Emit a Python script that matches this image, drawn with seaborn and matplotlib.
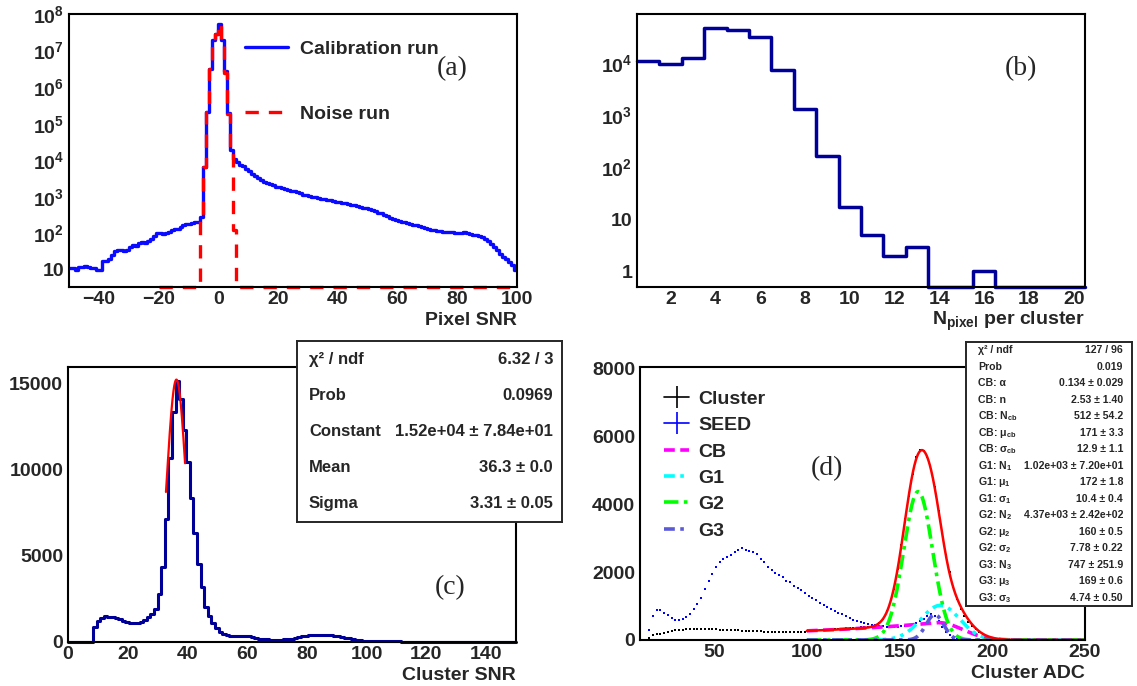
import numpy as np
import pandas as pd
import seaborn as sns
import matplotlib
matplotlib.use("Agg")
import matplotlib.pyplot as plt
from matplotlib.ticker import MultipleLocator, LogLocator, FuncFormatter, NullFormatter
from matplotlib.lines import Line2D

# ---- (a) pixel SNR, 1-unit bins ----
calib_start = -50
calib_counts = [
    11, 11, 10, 12, 12, 13, 12, 11, 11, 10,
    10, 17, 18, 20, 26, 33, 35, 34, 32, 36,
    42, 48, 45, 55, 58, 56, 62, 72, 85, 100,
    100, 98, 105, 112, 120, 128, 135, 150, 165, 175,
    185, 190, 200, 210, 280, 6600, 2.1e5, 3.2e6, 1.9e7, 2.8e7,
    5.3e7, 2.0e7, 2.8e6, 2.0e5, 1.9e4, 1.05e4, 9.0e3, 7.6e3, 6.8e3, 5.8e3,
    5.0e3, 4.2e3, 3.6e3, 3.2e3, 2.9e3, 2.6e3, 2.4e3, 2.2e3, 2.05e3, 1.9e3,
    1.8e3, 1.7e3, 1.6e3, 1.55e3, 1.45e3, 1.4e3, 1.35e3, 1.25e3, 1.15e3, 1.1e3,
    1.05e3, 1.0e3, 960, 920, 890, 860, 830, 800, 770, 740,
    720, 690, 660, 640, 610, 580, 560, 520, 500, 500,
    470, 430, 400, 370, 350, 320, 290, 270, 250, 230,
    220, 210, 200, 190, 180, 170, 165, 160, 150, 140,
    130, 125, 120, 118, 115, 112, 110, 108, 106, 104,
    102, 100, 110, 100, 95, 90, 92, 85, 78, 70,
    60, 50, 43, 35, 28, 22, 20, 16, 14, 10,
]
noise_start = -20
noise_counts = ([0] * 14
                + [250, 6600, 2.1e5, 3.2e6, 1.9e7, 2.8e7, 5.3e7, 2.0e7, 2.5e6, 1.8e5, 1.9e4, 120]
                + [0] * 94)

# ---- (b) pixels per cluster ----
npix_counts = [11000, 10000, 13000, 49000, 45000, 33000, 7400, 1360, 167, 17.5,
               5, 2, 3, 0, 0, 1, 0, 0, 0, 0]

# ---- (c) cluster SNR, 1.2 wide bins from 0 to 150 ----
csnr_width = 1.2
csnr_counts = [
    0, 0, 0, 0, 0, 0, 0,
    850, 1200, 1400, 1480, 1460, 1430, 1380, 1310, 1230, 1160,
    1110, 1090, 1110, 1160, 1250, 1450, 1650, 1930, 2800, 4350,
    7150, 10640, 13350, 15100, 14050, 12280, 10440, 8320, 6320, 4500,
    3190, 2030, 1500, 1100, 800, 600, 470, 400, 370, 350,
    350, 360, 350, 320, 280, 240, 200, 170, 150, 140,
    135, 135, 140, 150, 170, 200, 240, 280, 320, 350,
    380, 390, 400, 400, 400, 390, 380, 350, 320, 290,
    250, 210, 170, 130, 100, 80, 70, 60, 55, 50,
    45, 40, 38, 35, 32, 30, 28, 25, 23, 22,
    20, 19, 18, 17, 16, 15, 14, 13, 12, 12,
    11, 10, 10, 9, 9, 8, 8, 7, 7, 6,
    6, 6, 5, 5, 5, 4, 4, 4,
]
gaus_pars = [1.52e4, 36.3, 3.31]
gaus_range = [32.8, 39.2]
c_stat_names = ["χ² / ndf", "Prob", "Constant", "Mean", "Sigma"]
c_stat_values = ["6.32 / 3", "0.0969", "1.52e+04 ± 7.84e+01", "36.3 ± 0.0", "3.31 ± 0.05"]

# ---- (d) cluster / seed ADC, 2 wide bins from 10 to 250 ----
adc_start, adc_width = 10, 2
cluster_counts = [
    0, 0, 60, 150, 170, 180, 220, 240, 270, 290,
    300, 300, 310, 310, 320, 330, 330, 330, 320, 320,
    310, 300, 300, 290, 290, 280, 280, 270, 270, 270,
    260, 260, 260, 250, 250, 250, 240, 240, 240, 240,
    240, 240, 240, 240, 250, 270, 280, 290, 290, 300,
    300, 310, 320, 320, 330, 340, 340, 350, 360, 370,
    380, 390, 410, 440, 500, 620, 850, 1100, 1500, 2100,
    2800, 3550, 4250, 4900, 5400, 5600, 5580, 5380, 5000, 4500,
    3800, 3150, 2500, 2000, 1550, 1200, 900, 700, 540, 420,
    330, 250, 180, 130, 90, 60, 40, 25, 15, 8,
    0, 0, 0, 0, 0, 0, 0, 0, 0, 0,
    0, 0, 0, 0, 0, 0, 0, 0, 0, 0,
]
seed_counts = [
    0, 0, 300, 700, 880, 870, 800, 730, 650, 600,
    590, 610, 680, 760, 900, 1050, 1250, 1500, 1750, 1950,
    2150, 2300, 2400, 2450, 2500, 2580, 2650, 2700, 2650, 2620,
    2600, 2520, 2400, 2300, 2150, 2050, 1980, 1900, 1850, 1750,
    1700, 1600, 1520, 1460, 1380, 1300, 1230, 1170, 1100, 1040,
    960, 900, 850, 800, 760, 700, 640, 600, 560, 520,
    490, 470, 450, 430, 420, 400, 390, 380, 380, 380,
    400, 420, 450, 480, 510, 550, 610, 700, 780, 720,
    560, 380, 250, 140, 60, 20, 0, 0, 0, 0,
    0, 0, 0, 0, 0, 0, 0, 0, 0, 0,
    0, 0, 0, 0, 0, 0, 0, 0, 0, 0,
    0, 0, 0, 0, 0, 0, 0, 0, 0, 0,
]
cb_pars = [0.134, 2.53, 512, 171, 12.9]   # alpha, n, N, mu, sigma
g1_pars = [1020, 172, 10.4]
g2_pars = [4370, 160, 7.78]
g3_pars = [747, 169, 4.74]
fit_range = [100, 250]
d_stat_names = ["χ² / ndf", "Prob", "CB: α", "CB: n",
                r"CB: N$_{\mathbf{cb}}$", r"CB: μ$_{\mathbf{cb}}$", r"CB: σ$_{\mathbf{cb}}$",
                r"G1: N$_{\mathbf{1}}$", r"G1: μ$_{\mathbf{1}}$", r"G1: σ$_{\mathbf{1}}$",
                r"G2: N$_{\mathbf{2}}$", r"G2: μ$_{\mathbf{2}}$", r"G2: σ$_{\mathbf{2}}$",
                r"G3: N$_{\mathbf{3}}$", r"G3: μ$_{\mathbf{3}}$", r"G3: σ$_{\mathbf{3}}$"]
d_stat_values = ["127 / 96", "0.019", "0.134 ± 0.029", "2.53 ± 1.40", "512 ± 54.2",
                 "171 ± 3.3", "12.9 ± 1.1", "1.02e+03 ± 7.20e+01", "172 ± 1.8",
                 "10.4 ± 0.4", "4.37e+03 ± 2.42e+02", "160 ± 0.5", "7.78 ± 0.22",
                 "747 ± 251.9", "169 ± 0.6", "4.74 ± 0.50"]

sns.set_style("white")
plt.rcParams['font.family'] = ['Liberation Sans', 'DejaVu Sans']
plt.rcParams['font.weight'] = 'bold'
plt.rcParams['axes.labelweight'] = 'bold'
plt.rcParams['mathtext.fontset'] = 'custom'
plt.rcParams['mathtext.rm'] = 'Liberation Sans'
plt.rcParams['mathtext.bf'] = 'Liberation Sans:bold'
plt.rcParams['mathtext.it'] = 'Liberation Sans:italic'

W, H = 1137, 686
fig = plt.figure(figsize=(W / 100, H / 100), dpi=100)


def px_axes(x0, y0, x1, y1):
    return fig.add_axes([x0 / W, 1 - y1 / H, (x1 - x0) / W, (y1 - y0) / H])


def root_style(ax):
    for s in ax.spines.values():
        s.set_linewidth(1.5)
        s.set_color("black")
    ax.tick_params(which="both", direction="in", top=False, right=False,
                   labelsize=14, width=1.0, color="black")
    ax.tick_params(axis="x", which="major", length=8, pad=3)
    ax.tick_params(axis="x", which="minor", length=4)
    ax.tick_params(axis="y", which="major", length=13, pad=3.5)
    ax.tick_params(axis="y", which="minor", length=7)
    ax.set_ylabel("")


def log_label(v, pos):
    e = int(round(np.log10(v)))
    if e == 0:
        return "1"
    if e == 1:
        return "10"
    return r"$\mathbf{10^{%d}}$" % e


def log_axis(ax):
    ax.set_yscale("log")
    ax.yaxis.set_major_locator(LogLocator(base=10, numticks=20))
    ax.yaxis.set_minor_locator(LogLocator(base=10, subs=np.arange(2, 10), numticks=100))
    ax.yaxis.set_major_formatter(FuncFormatter(log_label))
    ax.yaxis.set_minor_formatter(NullFormatter())


def step_frame(edges, counts):
    counts = np.asarray(counts, dtype=float)
    return pd.DataFrame({"edge": edges, "count": np.append(counts, counts[-1])})


def stats_box(x0, y0, x1, y1, names, values, size):
    bx = px_axes(x0, y0, x1, y1)
    bx.set_xticks([])
    bx.set_yticks([])
    bx.set_facecolor("white")
    for s in bx.spines.values():
        s.set_linewidth(1.4)
    n = len(names)
    lpad = 12 / (x1 - x0)
    rpad = 1 - 9 / (x1 - x0)
    for i, (nm, val) in enumerate(zip(names, values)):
        yy = 1 - (i + 0.5) / n
        bx.text(lpad, yy, nm, ha="left", va="center", fontsize=size, transform=bx.transAxes)
        bx.text(rpad, yy, val, ha="right", va="center", fontsize=size, transform=bx.transAxes)


def tag(ax, x, y, s):
    ax.text(x, y, s, transform=ax.transAxes, ha="center", va="center",
            fontsize=20, fontweight="normal", family=["Liberation Serif", "DejaVu Serif"])


# ---------------- (a) ----------------
ax_a = px_axes(69, 14, 517, 287)
a_ylim = (3.4, 1e8)
a_edges = np.arange(calib_start, calib_start + len(calib_counts) + 1)
n_edges = np.arange(noise_start, noise_start + len(noise_counts) + 1)
sns.lineplot(data=step_frame(a_edges, np.clip(calib_counts, a_ylim[0], None)), x="edge", y="count",
             drawstyle="steps-post", color="#0a0aff", lw=2.4, estimator=None, sort=False, ax=ax_a)
sns.lineplot(data=step_frame(n_edges, np.clip(noise_counts, a_ylim[0], None)), x="edge", y="count",
             drawstyle="steps-post", color="#ff0000", lw=2.4, linestyle=(0, (4, 3)),
             estimator=None, sort=False, ax=ax_a, clip_on=False)
log_axis(ax_a)
ax_a.set_xlim(-50, 100)
ax_a.set_ylim(*a_ylim)
ax_a.xaxis.set_major_locator(MultipleLocator(20))
ax_a.xaxis.set_minor_locator(MultipleLocator(5))
root_style(ax_a)
ax_a.set_xlabel("Pixel SNR", fontsize=14, loc="right", labelpad=3)
ax_a.legend([Line2D([], [], color="#0a0aff", lw=2.4),
             Line2D([], [], color="#ff0000", lw=2.4, linestyle=(0, (4, 3)))],
            ["Calibration run", "Noise run"], loc="upper left", bbox_to_anchor=(0.393, 0.905),
            frameon=False, fontsize=14, handlelength=2.2, handletextpad=0.6,
            labelspacing=2.45, borderpad=0, borderaxespad=0)
tag(ax_a, 0.855, 0.800, "(a)")

# ---------------- (b) ----------------
ax_b = px_axes(637, 14, 1085, 287)
b_ylim = (0.5, 9e4)
b_edges = np.arange(0.5, len(npix_counts) + 1)
sns.lineplot(data=step_frame(b_edges, np.clip(npix_counts, b_ylim[0], None)), x="edge", y="count",
             drawstyle="steps-post", color="#000099", lw=2.5, estimator=None, sort=False,
             ax=ax_b, clip_on=False)
log_axis(ax_b)
ax_b.set_xlim(0.5, 20.5)
ax_b.set_ylim(*b_ylim)
ax_b.xaxis.set_major_locator(MultipleLocator(2))
ax_b.xaxis.set_minor_locator(MultipleLocator(0.5))
root_style(ax_b)
ax_b.set_xlabel(r"N$_{\mathbf{pixel}}$ per cluster", fontsize=14, loc="right", labelpad=1)
tag(ax_b, 0.857, 0.799, "(b)")

# ---------------- (c) ----------------
ax_c = px_axes(68, 367, 516, 642)
c_edges = np.arange(len(csnr_counts) + 1) * csnr_width
sns.lineplot(data=step_frame(c_edges, csnr_counts), x="edge", y="count",
             drawstyle="steps-post", color="#000099", lw=2.2, estimator=None, sort=False,
             ax=ax_c, clip_on=False)
gx = np.linspace(gaus_range[0], gaus_range[1], 200)
gy = gaus_pars[0] * np.exp(-0.5 * ((gx - gaus_pars[1]) / gaus_pars[2]) ** 2)
sns.lineplot(x=gx, y=gy, color="#ff0000", lw=1.6, ax=ax_c)
ax_c.set_xlim(0, 150)
ax_c.set_ylim(0, 15930)
ax_c.xaxis.set_major_locator(MultipleLocator(20))
ax_c.xaxis.set_minor_locator(MultipleLocator(5))
ax_c.yaxis.set_major_locator(MultipleLocator(5000))
ax_c.yaxis.set_minor_locator(MultipleLocator(1000))
root_style(ax_c)
ax_c.set_xlabel("Cluster SNR", fontsize=14, loc="right", labelpad=3)
tag(ax_c, 0.853, 0.196, "(c)")

# ---------------- (d) ----------------
ax_d = px_axes(640, 367, 1085, 640)
d_centres = adc_start + adc_width * (np.arange(len(cluster_counts)) + 0.5)
sns.scatterplot(x=d_centres, y=cluster_counts, color="black", marker="s", s=3,
                linewidth=0, ax=ax_d)
sns.scatterplot(x=d_centres, y=seed_counts, color="#0000ff", marker="s", s=3,
                linewidth=0, ax=ax_d)

fx = np.linspace(fit_range[0], fit_range[1], 800)


def gaus(x, p):
    return p[0] * np.exp(-0.5 * ((x - p[1]) / p[2]) ** 2)


def crystal_ball(x, p):
    alpha, n, norm, mu, sigma = p
    t = (x - mu) / sigma
    a = abs(alpha)
    A = (n / a) ** n * np.exp(-a * a / 2)
    B = n / a - a
    return norm * np.where(t > -a, np.exp(-t * t / 2), A * np.abs(B - t) ** (-n))


cb_y = crystal_ball(fx, cb_pars)
g1_y = gaus(fx, g1_pars)
g2_y = gaus(fx, g2_pars)
g3_y = gaus(fx, g3_pars)
sns.lineplot(x=fx, y=cb_y, color="#ff00ff", lw=2.6, linestyle=(0, (3, 1.5)), ax=ax_d)
sns.lineplot(x=fx, y=g1_y, color="#00ffff", lw=2.6, linestyle=(0, (3, 1.5, 1, 1.5, 1, 1.5)), ax=ax_d)
sns.lineplot(x=fx, y=g2_y, color="#00ff00", lw=2.6, linestyle=(0, (4, 1.5, 1, 1.5)), ax=ax_d)
sns.lineplot(x=fx, y=g3_y, color="#5a5ad8", lw=2.6, linestyle=(0, (3, 1.5, 1, 1.5)), ax=ax_d)
sns.lineplot(x=fx, y=cb_y + g1_y + g2_y + g3_y, color="#ff0000", lw=1.8, ax=ax_d)
ax_d.set_xlim(10, 250)
ax_d.set_ylim(0, 8040)
ax_d.xaxis.set_major_locator(MultipleLocator(50))
ax_d.xaxis.set_minor_locator(MultipleLocator(10))
ax_d.yaxis.set_major_locator(MultipleLocator(2000))
ax_d.yaxis.set_minor_locator(MultipleLocator(500))
root_style(ax_d)
ax_d.set_xlabel("Cluster ADC", fontsize=14, loc="right", labelpad=3)
d_handles = [
    Line2D([], [], color="black", lw=1.2, marker="|", ms=16, mew=1.2),
    Line2D([], [], color="#0000ff", lw=1.2, marker="|", ms=16, mew=1.2),
    Line2D([], [], color="#ff00ff", lw=2.6, linestyle=(0, (3, 1.5))),
    Line2D([], [], color="#00ffff", lw=2.6, linestyle=(0, (3, 1.5, 1, 1.5, 1, 1.5))),
    Line2D([], [], color="#00ff00", lw=2.6, linestyle=(0, (4, 1.5, 1, 1.5))),
    Line2D([], [], color="#5a5ad8", lw=2.6, linestyle=(0, (3, 1.5, 1, 1.5))),
]
ax_d.legend(d_handles, ["Cluster", "SEED", "CB", "G1", "G2", "G3"], loc="upper left",
            bbox_to_anchor=(0.054, 0.915), frameon=False, fontsize=14, handlelength=1.3,
            handletextpad=0.45, labelspacing=0.45, borderpad=0, borderaxespad=0)
tag(ax_d, 0.42, 0.626, "(d)")

# stats boxes on top
stats_box(297, 341, 562, 522, c_stat_names, c_stat_values, 12)
stats_box(966, 342, 1132, 606, d_stat_names, d_stat_values, 7.6)

fig.savefig("out.png", dpi=100)
